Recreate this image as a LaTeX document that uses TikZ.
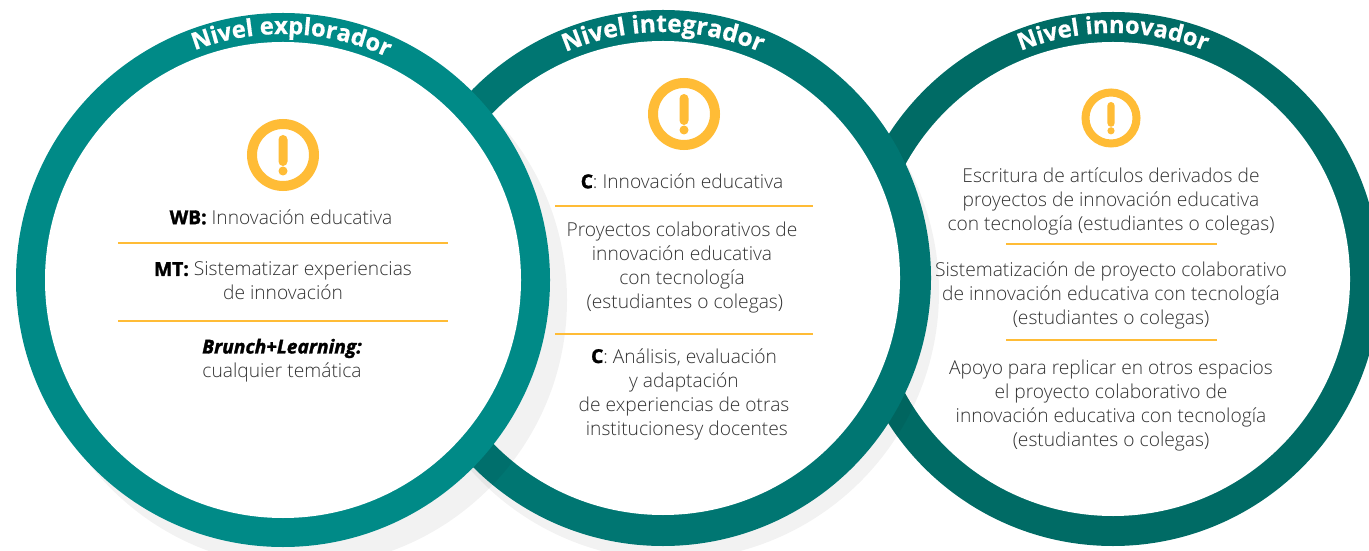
\documentclass[tikz,border=0pt]{standalone}
\usepackage{fontspec}
\setmainfont{Open Sans}[UprightFont=* Light,BoldFont=* Bold,ItalicFont=* Light Italic,BoldItalicFont=* Bold Italic,BoldFeatures={FakeBold=1.6},BoldItalicFeatures={FakeBold=1.6}]
\newfontfamily\titlefont{Open Sans}[UprightFont=* Bold,UprightFeatures={FakeBold=0.6}]
\usetikzlibrary{decorations.text}
\definecolor{ringA}{HTML}{008A87}
\definecolor{ringB}{HTML}{007672}
\definecolor{ringC}{HTML}{006B65}
\definecolor{amber}{HTML}{FFBC36}
\definecolor{ink}{HTML}{333333}
\definecolor{boldink}{HTML}{000000}
\newcommand{\heavy}[1]{\textcolor{boldink}{\textbf{#1}}}
\tikzset{
  body/.style={text=ink,font=\fontsize{14.4}{18}\selectfont,align=center,inner sep=0pt,anchor=center},
  sep/.style={draw=amber,line width=1.5pt},
  shadowdisc/.style={fill=black,fill opacity=0.05},
}
\newcommand{\titlearc}[6]{% cx, cy, a1, a2, size, text
  \path[decorate,decoration={text along path,text align={align=center},
    text={|\fontsize{#5}{20}\titlefont\color{white}|#6}}]
    (#1,550-#2) ++(#3:246) arc (#3:#4:246);}
\newcommand{\warnicon}[6]{% name, cx, cy, r, stroke(pt), scale
  \node[circle,draw=amber,line width=#5,minimum size=2*#4*0.75pt-#5,inner sep=0pt] (#1) at (#2,550-#3) {};
  \fill[amber,rounded corners=#6*4.5*0.75pt] (#2-#6*4.5,550-#3+#6*20) rectangle (#2+#6*4.5,550-#3-#6*11);
  \fill[amber] (#2,550-#3-#6*16) circle[radius=#6*4.5];}
\begin{document}
\begin{tikzpicture}[x=0.75pt,y=0.75pt]
\useasboundingbox (0,0) rectangle (1369,550);
% circle 3
\fill[ringC] (1113,550-279) circle[radius=267];
\fill[white] (1113,550-279) circle[radius=237];
% shadow of circle 2
\fill[shadowdisc] (671,550-292) circle[radius=268];
% circle 2
\fill[ringB] (663,550-278) circle[radius=268];
\fill[white] (663,550-278) circle[radius=237];
% shadow of circle 1
\fill[shadowdisc] (300,550-300) circle[radius=267];
% circle 1
\fill[ringA] (283,550-280) circle[radius=267];
\fill[white] (283,550-280) circle[radius=238];
% titles
\titlearc{283}{280}{118}{58}{17.8}{Nivel explorador}
\titlearc{663}{278}{120}{60}{18.4}{Nivel integrador}
\titlearc{1113}{279}{118}{62}{17.8}{Nivel innovador}
% icons
\warnicon{iconA}{283}{155}{36}{7.5pt}{1}
\warnicon{iconB}{684}{114}{36}{7.5pt}{1}
\warnicon{iconC}{1111}{118}{29.5}{6pt}{0.8}
% separators
\draw[sep] (118,550-243) -- (448,550-243);
\draw[sep] (118,550-321) -- (448,550-321);
\draw[sep] (555,550-206) -- (813,550-206);
\draw[sep] (555,550-334) -- (813,550-334);
\draw[sep] (1006,550-244) -- (1217,550-244);
\draw[sep] (1006,550-340) -- (1217,550-340);
% texts circle 1
\node[body] (a1) at (281,550-217) {\heavy{WB:} Innovación educativa};
\node[body] (a2) at (283,550-281) {\heavy{MT:} Sistematizar experiencias\\de innovación};
\node[body] (a3) at (282,550-360.5) {\heavy{\textit{Brunch+Learning:}}\\cualquier temática};
% texts circle 2
\node[body] (b1) at (682,550-181) {\heavy{C}: Innovación educativa};
\node[body] (b2) at (682,550-267.5) {Proyectos colaborativos de\\innovación educativa\\con tecnología\\\hspace*{0.3em}(estudiantes o colegas)};
\node[body] (b3) at (684,550-394) {\heavy{C}: Análisis, evaluación\\y adaptación\\de experiencias de otras\\\hspace*{0.3em}institucionesy docentes};
% texts circle 3
\node[body] (c1) at (1111,550-201) {Escritura de artículos derivados de\\proyectos de innovación educativa\\con tecnología (estudiantes o colegas)};
\node[body] (c2) at (1111,550-295.5) {Sistematización de proyecto colaborativo\\de innovación educativa con tecnología\\(estudiantes o colegas)};
\node[body] (c3) at (1111,550-406) {Apoyo para replicar en otros espacios\\el proyecto colaborativo de\\innovación educativa con tecnología\\(estudiantes o colegas)};
\end{tikzpicture}
\end{document}
